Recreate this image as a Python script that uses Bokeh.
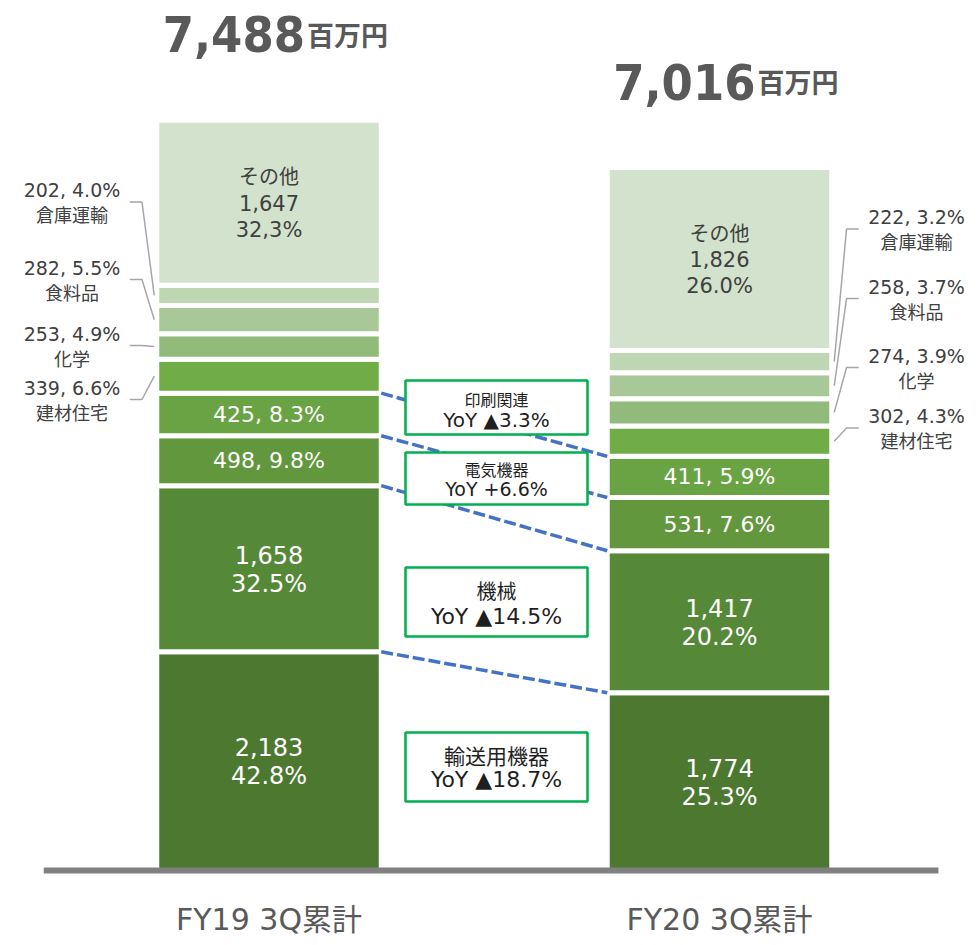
from bokeh.plotting import figure
from bokeh.models import Range1d
from bokeh.core.properties import value
from bokeh.embed import file_html
from bokeh.resources import INLINE
import numpy as np

# ---------------- data ----------------
categories = ["輸送用機器", "機械", "電気機器", "印刷関連", "建材住宅", "化学", "食料品", "倉庫運輸", "その他"]
fy19_values = [2183, 1658, 498, 425, 339, 253, 282, 202, 1647]
fy20_values = [1774, 1417, 531, 411, 302, 274, 258, 222, 1826]
fy19_pct = ["42.8%", "32.5%", "9.8%", "8.3%", "6.6%", "4.9%", "5.5%", "4.0%", "32,3%"]
fy20_pct = ["25.3%", "20.2%", "7.6%", "5.9%", "4.3%", "3.9%", "3.7%", "3.2%", "26.0%"]
periods = ["FY19 3Q累計", "FY20 3Q累計"]
total_labels = ["7,488", "7,016"]
total_unit = "百万円"
yoy_names = ["印刷関連", "電気機器", "機械", "輸送用機器"]
yoy_texts = ["YoY ▲3.3%", "YoY +6.6%", "YoY ▲14.5%", "YoY ▲18.7%"]

# ---------------- styles / layout ----------------
colors = ["#4C7830", "#568937", "#62973E", "#69A343", "#70AD47",
          "#92BB7B", "#A8C897", "#BFD6B2", "#D3E2CC"]
W, H = 977, 945
PX_X = 450.5     # px per category step
X0_PX = 268.5    # px of first category centre inside the frame
PX_Y = 0.1002    # px per 百万円
Y0_PX = 870      # px from frame top of the zero line
BW = 224.5 / PX_X

x_start = -X0_PX / PX_X
x_end = x_start + W / PX_X
y_end = Y0_PX / PX_Y
y_start = y_end - H / PX_Y


def py(page_y):
    """picture pixel row -> data value (layout helper for annotations)"""
    return (Y0_PX - page_y) / PX_Y


LATIN = value("DejaVu Sans")
CJK = value("Noto Sans CJK JP")
MIXED = value("DejaVu Sans, Noto Sans CJK JP")
GRAY_TXT = "#404040"

p = figure(width=W, height=H, x_range=Range1d(x_start, x_end), y_range=Range1d(y_start, y_end),
           output_backend="svg", toolbar_location=None, min_border=0,
           x_axis_location=None, y_axis_location=None, outline_line_color=None,
           background_fill_color="white", border_fill_color="white")
p.xgrid.visible = False
p.ygrid.visible = False

series = [fy19_values, fy20_values]
pcts = [fy19_pct, fy20_pct]
cums = [np.cumsum(v) for v in series]

# ---- bars ----
for i, vals in enumerate(series):
    top = cums[i]
    bottom = top - np.array(vals)
    p.quad(left=i - BW / 2, right=i + BW / 2, bottom=bottom, top=top,
           fill_color=colors, line_color="white", line_width=5)

# ---- baseline ----
p.segment(x0=[-0.5], y0=[0], x1=[1.486], y1=[0], line_color="#808080", line_width=6)

# ---- connectors between bars (tops of the four big categories) ----
p.segment(x0=[BW / 2] * 4, y0=list(cums[0][:4]), x1=[1 - BW / 2] * 4, y1=list(cums[1][:4]),
          line_color="#4472C4", line_width=3.5, line_dash="12 4")

# ---- YoY boxes ----
box_x = 0.505
box_w = 182 / PX_X
box_cy = [py(407), py(478), py(601.5), py(766.5)]
box_h = [54, 52, 69, 69]
p.rect(x=[box_x] * 4, y=box_cy, width=box_w, height=box_h, height_units="screen",
       fill_color="white", line_color="#00B050", line_width=2.5)
name_off = [-9, -10, -12, -12]
yoy_off = [12, 10, 14, 12]
name_size = ["16px", "16px", "20px", "21px"]
yoy_size = ["20px", "19px", "22px", "22px"]
for k in range(4):
    p.text(x=[box_x], y=[box_cy[k]], text=[yoy_names[k]], y_offset=name_off[k],
           text_font=CJK, text_font_size=name_size[k], text_color="#1F1F1F",
           text_align="center", text_baseline="middle")
    p.text(x=[box_x], y=[box_cy[k]], text=[yoy_texts[k]], y_offset=yoy_off[k],
           text_font=LATIN, text_font_size=yoy_size[k], text_color="#1F1F1F",
           text_align="center", text_baseline="middle")

# ---- labels inside bars ----
for i, vals in enumerate(series):
    mids = cums[i] - np.array(vals) / 2
    pc = pcts[i]
    for j in (0, 1):
        p.text(x=[i, i], y=[mids[j], mids[j]], text=[f"{vals[j]:,}", pc[j]], y_offset=[-14, 15],
               text_font=LATIN, text_font_size="24px", text_color="white",
               text_align="center", text_baseline="middle")
    for j in (2, 3):
        p.text(x=[i], y=[mids[j]], text=[f"{vals[j]}, {pc[j]}"],
               text_font=LATIN, text_font_size="22px", text_color="white",
               text_align="center", text_baseline="middle")
    j = 8
    p.text(x=[i], y=[mids[j]], text=[categories[j]], y_offset=-27,
           text_font=CJK, text_font_size="20px", text_color=GRAY_TXT,
           text_align="center", text_baseline="middle")
    p.text(x=[i, i], y=[mids[j], mids[j]], text=[f"{vals[j]:,}", pc[j]], y_offset=[0, 27],
           text_font=LATIN, text_font_size="21px", text_color=GRAY_TXT,
           text_align="center", text_baseline="middle")

# ---- side labels with leader lines ----
side_idx = [4, 5, 6, 7]
side_cy = [[py(399), py(345), py(279), py(201.5)],
           [py(427.5), py(367), py(298), py(228.5)]]
label_dx = 0.4373
start_dx = 0.3091
knee_dx = 0.282
end_dx = BW / 2 + 0.0055
for i, vals in enumerate(series):
    sgn = -1 if i == 0 else 1
    mids = cums[i] - np.array(vals) / 2
    xs_list, ys_list = [], []
    for n, j in enumerate(side_idx):
        cy = side_cy[i][n]
        p.text(x=[i + sgn * label_dx], y=[cy], text=[f"{vals[j]}, {pcts[i][j]}"], y_offset=-12,
               text_font=LATIN, text_font_size="19px", text_color=GRAY_TXT,
               text_align="center", text_baseline="middle")
        p.text(x=[i + sgn * label_dx], y=[cy], text=[categories[j]], y_offset=12,
               text_font=CJK, text_font_size="18px", text_color=GRAY_TXT,
               text_align="center", text_baseline="middle")
        xs_list.append([i + sgn * start_dx, i + sgn * knee_dx, i + sgn * end_dx])
        ys_list.append([cy, cy, mids[j]])
    p.multi_line(xs=xs_list, ys=ys_list, line_color="#A6A6A6", line_width=1.5)

# ---- totals above bars ----
for i, vals in enumerate(series):
    tot = cums[i][-1]
    p.text(x=[i], y=[tot], text=[total_labels[i]], x_offset=36, y_offset=-86,
           text_font=value("DejaVu Sans Condensed, DejaVu Sans"), text_font_style="bold",
           text_font_size="50px", text_color="#595959",
           text_align="right", text_baseline="alphabetic")
    p.text(x=[i], y=[tot], text=[total_unit], x_offset=38, y_offset=-86,
           text_font=CJK, text_font_style="bold", text_font_size="27px", text_color="#595959",
           text_align="left", text_baseline="alphabetic")

# ---- period labels ----
p.text(x=[0, 1], y=[0, 0], text=periods, y_offset=49,
       text_font=MIXED, text_font_size="30px", text_color="#595959",
       text_align="center", text_baseline="alphabetic")

open("out.html", "w").write(file_html(p, INLINE))
